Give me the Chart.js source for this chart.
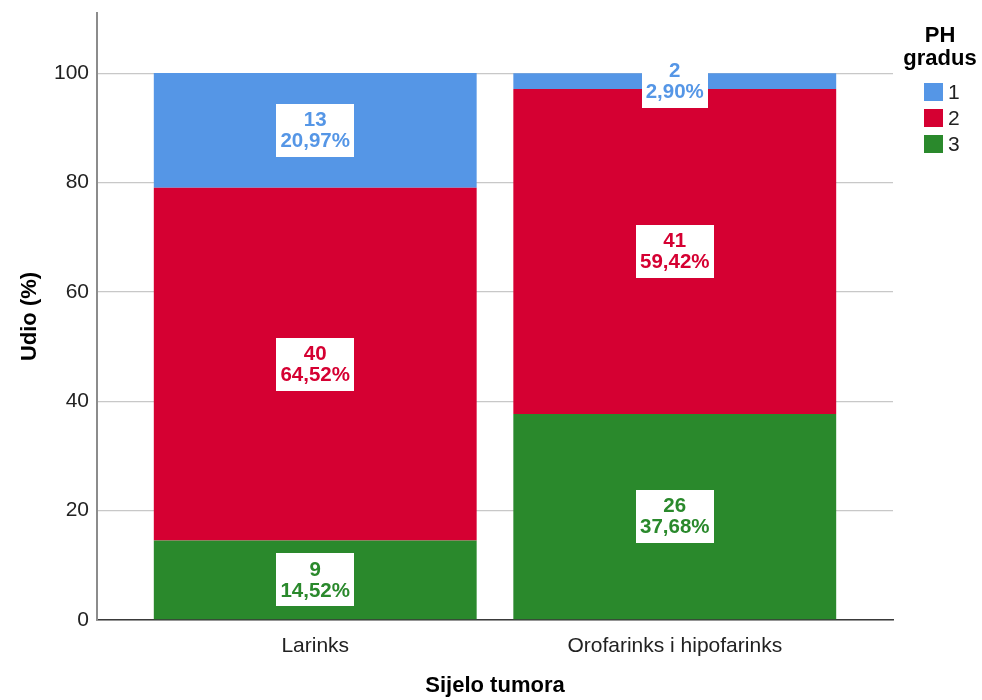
<!DOCTYPE html>
<html>
<head>
<meta charset="utf-8">
<script src="https://cdn.jsdelivr.net/npm/chart.js@4/dist/chart.umd.min.js"></script>
<style>
  html, body { margin: 0; padding: 0; background: #ffffff; }
  #wrap { width: 982px; height: 700px; }
</style>
</head>
<body>
<div id="wrap"><canvas id="barChart" width="982" height="700"></canvas></div>
<script>
// Data
const categories = ['Larinks', 'Orofarinks i hipofarinks'];
const grades = ['1', '2', '3'];
const countsGrade1 = [13, 2];
const countsGrade2 = [40, 41];
const countsGrade3 = [9, 26];
const pctGrade1 = [20.97, 2.90];
const pctGrade2 = [64.52, 59.42];
const pctGrade3 = [14.52, 37.68];
const yTicks = [0, 20, 40, 60, 80, 100];

const colors = { '1': '#5596E6', '2': '#D50032', '3': '#2A892C' };
const fontFamily = "'Liberation Sans', Arial, sans-serif";

function points(pcts) {
  return pcts.map((p, i) => ({ x: i, y: p }));
}

// stacked bottom to top: 3, 2, 1
const datasets = [
  { label: grades[2], data: points(pctGrade3), counts: countsGrade3, backgroundColor: colors['3'] },
  { label: grades[1], data: points(pctGrade2), counts: countsGrade2, backgroundColor: colors['2'] },
  { label: grades[0], data: points(pctGrade1), counts: countsGrade1, backgroundColor: colors['1'] }
];

// White boxes with count + percentage inside each segment
const segmentLabels = {
  id: 'segmentLabels',
  afterDatasetsDraw(chart) {
    const ctx = chart.ctx;
    ctx.save();
    ctx.font = 'bold 20.5px ' + fontFamily;
    ctx.textAlign = 'center';
    ctx.textBaseline = 'middle';
    chart.data.datasets.forEach((ds, di) => {
      const meta = chart.getDatasetMeta(di);
      meta.data.forEach((bar, i) => {
        const top = ds.counts[i] + '';
        const bottom = ds.data[i].y.toFixed(2).replace('.', ',') + '%';
        const w = Math.max(ctx.measureText(top).width, ctx.measureText(bottom).width) + 8;
        const h = 53;
        const cy = (bar.y + bar.base) / 2;
        ctx.fillStyle = '#ffffff';
        ctx.fillRect(Math.round(bar.x - w / 2), Math.round(cy - h / 2), Math.round(w), h);
        ctx.fillStyle = ds.backgroundColor;
        ctx.fillText(top, bar.x, cy - 10);
        ctx.fillText(bottom, bar.x, cy + 11);
      });
    });
    ctx.restore();
  }
};

// SPSS-style legend with a two-line title on the right
const sideLegend = {
  id: 'sideLegend',
  afterDraw(chart) {
    const ctx = chart.ctx;
    ctx.save();
    ctx.fillStyle = '#000000';
    ctx.font = 'bold 22px ' + fontFamily;
    ctx.textAlign = 'center';
    ctx.textBaseline = 'middle';
    ctx.fillText('PH', 940, 36);
    ctx.fillText('gradus', 940, 59);
    const items = chart.data.datasets.slice().reverse();
    items.forEach((ds, k) => {
      const cy = 92 + k * 26;
      ctx.fillStyle = ds.backgroundColor;
      ctx.fillRect(924, cy - 9, 19, 18);
      ctx.fillStyle = '#222222';
      ctx.font = '21px ' + fontFamily;
      ctx.textAlign = 'left';
      ctx.fillText(ds.label, 948, cy + 1);
    });
    ctx.restore();
  }
};

new Chart(document.getElementById('barChart'), {
  type: 'bar',
  data: { datasets: datasets },
  plugins: [segmentLabels, sideLegend],
  options: {
    responsive: false,
    animation: false,
    layout: { padding: { top: 13, right: 89, left: 0, bottom: 0 } },
    datasets: {
      bar: { barPercentage: 1, categoryPercentage: 0.898, borderWidth: 0 }
    },
    plugins: {
      legend: { display: false },
      tooltip: { enabled: false }
    },
    scales: {
      x: {
        type: 'linear',
        stacked: true,
        offset: false,
        min: -0.607,
        max: 1.607,
        afterBuildTicks: (scale) => { scale.ticks = categories.map((c, i) => ({ value: i })); },
        afterFit: (scale) => {
          scale.height = 80;
          scale.paddingLeft = 0;
          scale.paddingRight = 0;
        },
        grid: { display: false },
        border: { display: true, color: '#3a3a3a', width: 1.5 },
        ticks: {
          color: '#222222',
          font: { family: fontFamily, size: 21 },
          padding: 6,
          maxRotation: 0,
          callback: (v) => categories[v]
        },
        title: {
          display: true,
          text: 'Sijelo tumora',
          color: '#000000',
          font: { family: fontFamily, size: 22, weight: 'bold' },
          padding: { top: 0, bottom: 1 }
        }
      },
      y: {
        stacked: true,
        min: 0,
        max: 111,
        afterBuildTicks: (scale) => { scale.ticks = yTicks.map(v => ({ value: v })); },
        afterFit: (scale) => {
          scale.width = 97;
          scale.paddingTop = 0;
          scale.paddingBottom = 0;
        },
        grid: { color: '#c8c8c8', lineWidth: 1.3, drawTicks: false },
        border: { display: true, color: '#8c8c8c', width: 2 },
        ticks: {
          color: '#222222',
          font: { family: fontFamily, size: 21 },
          padding: 8
        },
        title: {
          display: true,
          text: 'Udio (%)',
          color: '#000000',
          font: { family: fontFamily, size: 22, weight: 'bold' },
          padding: { top: 17, bottom: 0 }
        }
      }
    }
  }
});
</script>
</body>
</html>
